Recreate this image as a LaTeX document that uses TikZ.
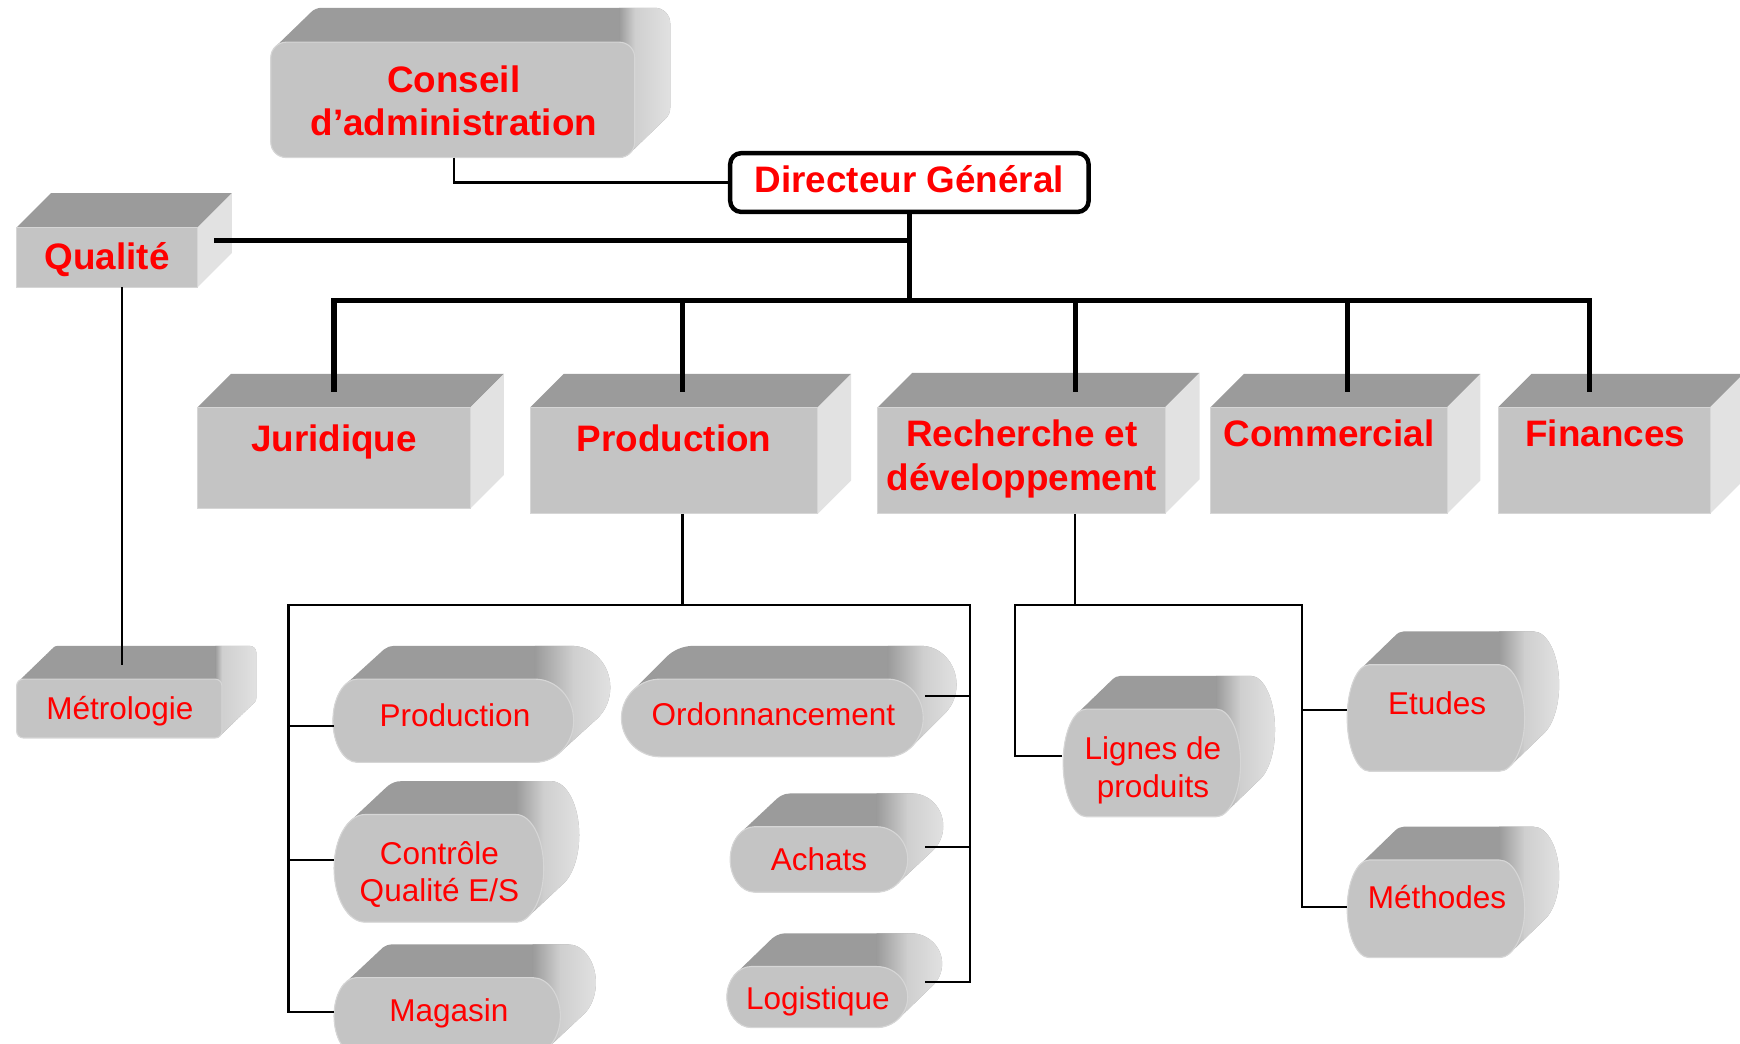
\documentclass[tikz,border=0pt]{standalone}
\usepackage{fontspec}
\setmainfont{Liberation Sans}
\definecolor{topc}{HTML}{9B9B9B}
\definecolor{frontc}{HTML}{C4C4C4}
\definecolor{sidec}{HTML}{E2E2E2}
\definecolor{midc}{HTML}{CFCFCF}
\definecolor{edgec}{HTML}{D6D6D6}
\definecolor{txtred}{HTML}{FF0000}
% front outline with elliptical ends; #8,#9 = offset (right, up)
\newcommand\frontpath[9]{%
 (#1+#5+#8,#2-#9) -- (#3-#6+#8,#2-#9)
 arc[start angle=-90,end angle=0,x radius=#6,y radius=#7]
 -- (#3+#8,#4-#7-#9)
 arc[start angle=0,end angle=90,x radius=#6,y radius=#7]
 -- (#1+#5+#8,#4-#9)
 arc[start angle=90,end angle=180,x radius=#5,y radius=#7]
 -- (#1+#8,#2+#7-#9)
 arc[start angle=180,end angle=270,x radius=#5,y radius=#7]
 -- cycle}
% rounded 3D solid: x1 y1 x2 y2 rxL rxR ry depth-x depth-y
\newcommand\mysolid[9]{%
 \fill[topc] \foreach \i in {0,...,20}{\frontpath{#1}{#2}{#3}{#4}{#5}{#6}{#7}{\i/20*#8}{\i/20*#9}};
 \begin{scope}
  \clip \foreach \i in {0,...,20}{\frontpath{#1}{#2}{#3}{#4}{#5}{#6}{#7}{\i/20*#8}{\i/20*#9}};
  \shade[left color=topc,right color=midc] (#3-#6,#2-#9-2) rectangle (#3,#4+2);
  \shade[left color=midc,right color=sidec] (#3,#2-#9-2) rectangle (#3+#8+2,#4+2);
 \end{scope}
 \fill[frontc,draw=edgec,line width=0.5pt] \frontpath{#1}{#2}{#3}{#4}{#5}{#6}{#7}{0}{0};
}
% box with flat faces: x1 y1 x2 y2 depth
\newcommand\mycube[5]{%
 \fill[topc] (#1,#2) -- (#1+#5,#2-#5) -- (#3+#5,#2-#5) -- (#3,#2) -- cycle;
 \fill[sidec] (#3,#2) -- (#3+#5,#2-#5) -- (#3+#5,#4-#5) -- (#3,#4) -- cycle;
 \fill[frontc,draw=edgec,line width=0.5pt] (#1,#2) rectangle (#3,#4);
}
\begin{document}
\begin{tikzpicture}[x=0.5pt,y=-0.5pt,
 big/.style={text=txtred,font=\fontsize{16.6}{19.5}\selectfont\bfseries,inner sep=0pt},
 small/.style={text=txtred,font=\fontsize{14.2}{16.8}\selectfont,inner sep=0pt},
 thickc/.style={line width=2.3pt},
 thinc/.style={line width=1pt},
 dgbox/.style={draw=black,line width=2pt,rounded corners=5pt,fill=white,
   minimum width=161.5pt,minimum height=26.5pt,inner sep=0pt,text height=9pt,text depth=0pt,
   text=txtred,font=\fontsize{16.6}{19.5}\selectfont\bfseries}]
\useasboundingbox (0,0) rectangle (1568,940);
\clip (0,0) rectangle (1568,940);

% ---- shapes ----
\mysolid{244}{38}{572}{142}{14}{14}{14}{32}{31}
\mycube{15}{205}{178}{259}{31}
\mysolid{15}{612}{200}{665}{6}{6}{6}{31}{30}
\mycube{178}{367}{424}{458}{30}
\mycube{478}{367}{737}{463}{30}
\mycube{791}{367}{1050}{463}{31}
\mycube{1091}{367}{1304}{463}{30}
\mycube{1350}{367}{1541}{463}{30}
\mysolid{300}{612}{517}{687}{22}{35}{37.5}{33}{30}
\mysolid{560}{612}{832}{682}{35}{32}{35}{30}{30}
\mysolid{301}{734}{490}{831}{28}{25}{48.5}{32}{30}
\mysolid{301}{881}{505}{950}{20}{25}{34.5}{32}{30}
\mysolid{658}{745}{818}{804}{22}{28}{29.5}{32}{30}
\mysolid{655}{871}{818}{926}{22}{28}{27.5}{31}{30}
\mysolid{958}{639}{1118}{736}{21}{22}{48.5}{31}{30}
\mysolid{1214}{599}{1374}{695}{20}{23}{48}{31}{30}
\mysolid{1214}{775}{1374}{863}{20}{23}{44}{31}{30}

% ---- Directeur ----
\node[dgbox] (dg) at (819.5,164.5) {Directeur Général};

% ---- connector coordinates ----
\coordinate (cons-b) at (409,142);
\coordinate (bus) at (819,271);
\coordinate (qual-r) at (193,217);
\coordinate (qual-b) at (110,259);
\coordinate (met-t) at (110,599);
\coordinate (jur-t) at (301,353);
\coordinate (prod-t) at (615,353);
\coordinate (rd-t) at (969,353);
\coordinate (com-t) at (1214,353);
\coordinate (fin-t) at (1432,353);
\coordinate (prod-b) at (615,463);
\coordinate (rd-b) at (969,463);
\coordinate (pl) at (260,545);
\coordinate (pr) at (874,545);
\coordinate (rl) at (915,545);
\coordinate (rr) at (1173,545);
\coordinate (sprod-w) at (301,654);
\coordinate (ctrl-w) at (301,775);
\coordinate (mag-w) at (301,912);
\coordinate (ord-e) at (834,627);
\coordinate (ach-e) at (834,763);
\coordinate (log-e) at (834,885);
\coordinate (lig-w) at (957,681);
\coordinate (etu-w) at (1214,640);
\coordinate (meth-w) at (1214,817);

% ---- connectors ----
\draw[thinc] (cons-b) |- (dg.west);
\draw[thickc] (dg.south) -- (dg.south |- bus);
\draw[thickc] (qual-r) -- (qual-r -| dg.south);
\draw[thickc] (jur-t) -- (jur-t |- bus) -- (fin-t |- bus) -- (fin-t);
\draw[thickc] (prod-t) -- (prod-t |- bus);
\draw[thickc] (rd-t) -- (rd-t |- bus);
\draw[thickc] (com-t) -- (com-t |- bus);
\draw[thinc] (qual-b) -- (met-t);
\draw[thinc] (prod-b) -- (prod-b |- pl);
\draw[thinc] (mag-w) -| (pl) -- (pr) |- (log-e);
\draw[thinc] (sprod-w) -- (sprod-w -| pl);
\draw[thinc] (ctrl-w) -- (ctrl-w -| pl);
\draw[thinc] (ord-e) -- (ord-e -| pr);
\draw[thinc] (ach-e) -- (ach-e -| pr);
\draw[thinc] (rd-b) -- (rd-b |- rl);
\draw[thinc] (lig-w) -| (rl) -- (rr) |- (meth-w);
\draw[thinc] (etu-w) -- (etu-w -| rr);

% ---- texts ----
\node[big,align=center] (conseil) at (409,91) {Conseil\\d’administration};
\node[big,anchor=base] (qualite) at (96.5,242.6) {Qualité};
\node[big,anchor=base] (jur) at (301,407) {Juridique};
\node[big,anchor=base] (prod) at (607.5,407) {Production};
\node[big,align=center] (rd) at (921,413.5) {Recherche et\\développement};
\node[big,anchor=base] (com) at (1197.5,402.4) {Commercial};
\node[big,anchor=base] (fin) at (1446.5,402.4) {Finances};
\node[small,anchor=base] (met) at (108,648.8) {Métrologie};
\node[small,anchor=base] (sprod) at (410,654.8) {Production};
\node[small,anchor=base] (ord) at (697,654) {Ordonnancement};
\node[small,align=center] (ctrl) at (396,788) {Contrôle\\Qualité E/S};
\node[small,anchor=base] (mag) at (404.5,920.6) {Magasin};
\node[small,anchor=base] (ach) at (738,784.5) {Achats};
\node[small,anchor=base] (logi) at (737,910) {Logistique};
\node[small,align=center] (lig) at (1039,694.3) {Lignes de\\produits};
\node[small,anchor=base] (etu) at (1295,644) {Etudes};
\node[small,anchor=base] (meth) at (1295,819) {Méthodes};
\end{tikzpicture}
\end{document}
